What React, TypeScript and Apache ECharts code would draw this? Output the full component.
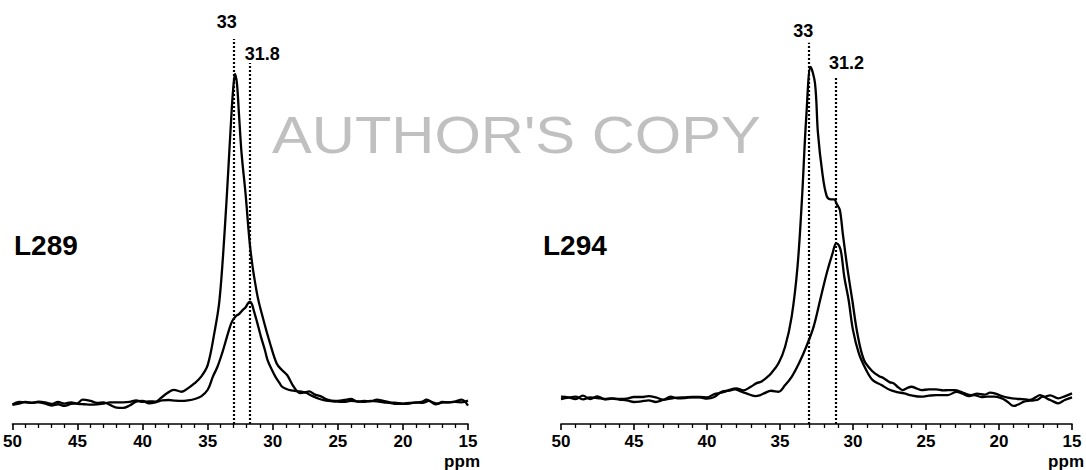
import React, { useEffect, useRef } from "react";
import * as echarts from "echarts";

// 13C NMR spectra, chemical shift (ppm) vs intensity (a.u.), two samples.
const l289Upper: [number, number][] = [
  [50, -0.5], [49.5, 0.3], [49, 0.2], [48.5, 0], [48, 0.4], [47.5, 0.2], [47, -0.3], [46.5, 0.3],
  [46, -0.2], [45.5, 0.2], [45, -0.3], [44.5, -0.4], [44, -0.5], [43.5, -0.4], [43, -0.2], [42.5, 0.2],
  [42, 0.2], [41.5, 0.2], [41, 0.3], [40.5, 0.8], [40, 0.3], [39.5, 0.5], [39, 0.4], [38.6, 1.5],
  [38.1, 3.0], [37.6, 4.0], [37.0, 3.4], [36.5, 4.5], [36.0, 6.0], [35.5, 8.0], [35.0, 11.5], [34.5, 21],
  [34.1, 31], [33.7, 52], [33.4, 72], [33.2, 86], [33.05, 95], [32.9, 100], [32.75, 97], [32.6, 88],
  [32.4, 76], [32.1, 64], [31.7, 46], [31.2, 33], [30.7, 25], [30.2, 18], [29.7, 12], [29.3, 10],
  [28.9, 8.5], [28.4, 5], [27.9, 3], [27.5, 3.2], [27.2, 3.5], [26.8, 2.6], [26.3, 2], [25.8, 1],
  [25.2, 0.6], [24.5, 0.9], [24, 1.2], [23.5, 0.4], [23, 0.6], [22.5, 0.5], [22, 1.0], [21.5, 0.6],
  [21, 0.2], [20.5, 0], [20, -0.2], [19.5, 0], [19, 0.1], [18.5, 0.4], [18.2, 1.0], [17.8, 0.3],
  [17.3, -0.2], [17, 0.3], [16.5, 0.2], [16, 0.4], [15.5, 1], [15, -0.8],
];

const l289Lower: [number, number][] = [
  [50, -0.6], [49.5, -0.2], [49, 0.3], [48.5, 0.1], [48, 0.2], [47.5, -0.2], [47, -0.8], [46.5, -0.4],
  [46, -0.9], [45.5, -0.3], [45, -0.1], [44.6, 1.0], [44, 0.6], [43.5, 0.0], [43, 0.2], [42.5, -0.6],
  [42, -1.4], [41.5, -1.5], [41, -0.8], [40.5, 0.4], [40, 0.6], [39.5, -0.1], [39, 0.2], [38.5, 0.8],
  [38, 0.9], [37.5, 0.7], [37, 0.6], [36.5, 0.8], [36, 1.2], [35.5, 2], [35.0, 4], [34.6, 8],
  [34.25, 11], [33.9, 15], [33.6, 19], [33.3, 23], [33.1, 25], [32.8, 26.5], [32.6, 27], [32.3, 28.3],
  [32.1, 29], [31.9, 30.3], [31.75, 30.8], [31.6, 30], [31.45, 28], [31.2, 24.5], [30.9, 20], [30.6, 16],
  [30.4, 13], [30.1, 10.3], [29.8, 8], [29.5, 6.2], [29.3, 5], [29.0, 4.3], [28.6, 3.8], [27.9, 3.5],
  [27.5, 3.2], [26.9, 2], [26.4, 1.2], [25.9, 0.7], [25.4, 0.5], [25, 0.4], [24.5, 0.3], [24, 0.6],
  [23.5, 0.5], [23, 0.3], [22.5, 0.6], [22, 0.5], [21.5, 0.2], [21, 0], [20.5, -0.3], [20, -0.3],
  [19.5, -0.2], [19, 0.2], [18.5, 0.0], [18, 0.6], [17.5, -0.4], [17, 0.1], [16.5, 0.2], [16, 0.3],
  [15.5, 0.2], [15, 0.7],
];

const l294Upper: [number, number][] = [
  [50, 0.4], [49.5, 0.2], [49, -0.3], [48.5, 0.7], [48, -0.3], [47.5, 0.5], [47, -0.4], [46.5, -0.2],
  [46, -0.5], [45.5, -0.7], [45, -1.2], [44.5, -1.0], [44, -0.7], [43.5, -1.2], [43, -0.6], [42.5, -0.2],
  [42, 0.1], [41.5, 0.2], [41, 0.3], [40.5, 0.3], [40, 0.2], [39.5, 1.2], [39, 1.6], [38.5, 2.4],
  [38, 2.9], [37.5, 2.3], [37, 3.4], [36.6, 4.5], [36.3, 4.9], [35.9, 6.2], [35.6, 7.5], [35.1, 10.5],
  [34.65, 15.5], [34.2, 24.6], [33.8, 39.7], [33.5, 59.8], [33.2, 85], [32.9, 100], [32.6, 95], [32.4, 80],
  [32.1, 68], [31.8, 61], [31.5, 60], [31.3, 60], [31.1, 58.5], [30.9, 56.8], [30.7, 49.7], [30.4, 39.7],
  [30.05, 29.6], [29.7, 19.5], [29.25, 11.5], [28.65, 8], [28.2, 6.6], [27.9, 6], [27.5, 4.8], [27.2, 4.4],
  [26.9, 3.2], [26.6, 2.4], [26.3, 3], [26.0, 3.4], [25.6, 2.8], [25.3, 2.4], [24.8, 2.6], [24.3, 2.6],
  [23.8, 2.3], [23.5, 2.4], [23, 2.4], [22.8, 2.2], [22.4, 1.5], [21.9, 0.9], [21.5, 1.3], [21, 1.0],
  [20.6, 1.6], [20.3, 1.4], [19.8, 0.6], [19.4, 0.1], [19.1, -0.1], [18.6, -0.3], [18.2, -0.4], [17.9, -0.6],
  [17.5, 0.2], [17.2, 0.9], [16.9, 0.4], [16.5, 0.8], [15.95, -0.1], [15.5, 0.5], [15, 1.4],
];

const l294Lower: [number, number][] = [
  [50, -0.3], [49.5, 0.1], [49, 0.4], [48.5, -0.4], [48, 0.2], [47.5, 0.0], [47, -0.3], [46.5, -0.1],
  [46, -0.3], [45.5, -0.2], [45, 0.3], [44.5, 0.3], [44, 0.6], [43.5, 0.2], [43, -0.5], [42.5, 0.4],
  [42, -0.1], [41.5, 0.0], [41, 0.2], [40.5, 0.2], [40, -0.2], [39.5, 0.3], [39, 1.9], [38.5, 2.2],
  [38.1, 2.6], [37.7, 2.0], [37.3, 1.4], [36.7, 0.6], [36.4, 0.8], [36.1, 1.4], [35.6, 2.2], [35.1, 1.9],
  [34.65, 3.9], [34.2, 6.4], [33.7, 10.5], [33.2, 15.5], [32.7, 21.5], [32.25, 29.6], [31.8, 37.7], [31.4, 43.7],
  [31.15, 46.7], [30.95, 46], [30.8, 43.7], [30.6, 36.7], [30.3, 29.6], [30.0, 20.5], [29.6, 13.5], [29.1, 8.5],
  [28.65, 5.4], [28.05, 3.9], [27.45, 2.4], [27, 1.8], [26.5, 1.4], [26, 0.8], [25.3, 0.4], [24.8, 0.7],
  [24.3, 0.9], [23.9, 0.9], [23.5, 0.9], [22.9, 1.9], [22.5, 1.3], [22.1, 0.6], [21.7, 0.9], [21.2, 0.3],
  [20.8, 0.4], [20.3, 0.4], [19.8, -0.1], [19.4, -1.2], [19.0, -2.4], [18.6, -1.8], [18.3, -1.1], [17.9, -0.8],
  [17.4, -0.6], [17.0, 0.4], [16.6, -0.4], [16.3, -1.0], [15.95, -1.6], [15.5, -0.6], [15, 0.2],
];

// Marked chemical shifts
const l289Peaks = [33, 31.8];
const l294Peaks = [33, 31.2];

const sampleNames = ["L289", "L294"];
const shiftRange = [15, 50];
const shiftStep = 5;
const unitLabel = "ppm";
const watermarkText = "AUTHOR'S COPY";

const FONT = '"Liberation Sans", Arial, Helvetica, sans-serif';

const panels = [
  {
    grid: { left: 11, right: 618, top: 20, bottom: 46 },
    yMin: -6.4,
    yMax: 116.4,
    curves: [l289Upper, l289Lower],
    peaks: l289Peaks,
    peakTops: [110.6, 103.3],
    peakLabels: [{ dx: -7, y: 22 }, { dx: 13, y: 54 }],
    name: sampleNames[0],
    namePos: { x: 14, y: 245 },
    unitRight: 480,
  },
  {
    grid: { left: 561, right: 14, top: 20, bottom: 46 },
    yMin: -7.85,
    yMax: 114.2,
    curves: [l294Upper, l294Lower],
    peaks: l294Peaks,
    peakTops: [107.3, 96.7],
    peakLabels: [{ dx: -6, y: 31 }, { dx: 11, y: 63 }],
    name: sampleNames[1],
    namePos: { x: 543, y: 245 },
    unitRight: 1084,
  },
];

function buildOption() {
  const series: any[] = [];
  panels.forEach((p, i) => {
    p.curves.forEach((curve, k) => {
      series.push({
        type: "line",
        xAxisIndex: i,
        yAxisIndex: i,
        data: curve,
        showSymbol: false,
        symbol: "none",
        smooth: 0.35,
        lineStyle: { color: "#000", width: 2.3 },
        emphasis: { disabled: true },
        silent: true,
        z: 3,
        markLine:
          k === 0
            ? {
                silent: true,
                symbol: ["none", "none"],
                label: { show: false },
                emphasis: { disabled: true },
                lineStyle: { color: "#000", width: 2.2, type: [2, 2] },
                data: p.peaks.map((v, j) => [
                  { coord: [v, p.yMin] },
                  { coord: [v, p.peakTops[j]] },
                ]),
              }
            : undefined,
      });
    });
  });

  return {
    animation: false,
    backgroundColor: "#fff",
    grid: panels.map((p) => ({ ...p.grid, containLabel: false })),
    xAxis: panels.map((_, i) => ({
      type: "value",
      gridIndex: i,
      min: shiftRange[0],
      max: shiftRange[1],
      interval: shiftStep,
      inverse: true,
      axisLine: { show: true, onZero: false, lineStyle: { color: "#000", width: 1.6 } },
      axisTick: { show: true, length: 6, lineStyle: { color: "#000", width: 1.6 } },
      minorTick: { show: true, splitNumber: 5, length: 4, lineStyle: { color: "#000", width: 1.3 } },
      splitLine: { show: false },
      minorSplitLine: { show: false },
      axisLabel: {
        color: "#000",
        fontSize: 17,
        fontWeight: "bold",
        fontFamily: FONT,
        margin: 9,
      },
    })),
    yAxis: panels.map((p, i) => ({
      type: "value",
      gridIndex: i,
      min: p.yMin,
      max: p.yMax,
      show: false,
      splitLine: { show: false },
    })),
    series,
  };
}

function staticGraphics() {
  const items: any[] = [
    {
      type: "text",
      id: "watermark",
      x: 272,
      y: 136,
      scaleX: 1.17,
      z: 1,
      silent: true,
      style: {
        text: watermarkText,
        fontSize: 51,
        fontFamily: FONT,
        fill: "#c0c0c0",
        align: "left",
        verticalAlign: "middle",
      },
    },
  ];
  panels.forEach((p, i) => {
    items.push({
      type: "text",
      id: `name-${i}`,
      x: p.namePos.x,
      y: p.namePos.y,
      z: 5,
      silent: true,
      style: {
        text: p.name,
        fontSize: 28,
        fontWeight: "bold",
        fontFamily: FONT,
        fill: "#000",
        align: "left",
        verticalAlign: "middle",
      },
    });
    items.push({
      type: "text",
      id: `unit-${i}`,
      x: p.unitRight,
      y: 461,
      z: 5,
      silent: true,
      style: {
        text: unitLabel,
        fontSize: 17,
        fontWeight: "bold",
        fontFamily: FONT,
        fill: "#000",
        align: "right",
        verticalAlign: "middle",
      },
    });
  });
  return items;
}

export default function App() {
  const ref = useRef<HTMLDivElement>(null);

  useEffect(() => {
    if (!ref.current) return;
    const chart = echarts.init(ref.current, null, { renderer: "svg" });
    chart.setOption(buildOption() as any);

    const peakTexts: any[] = [];
    panels.forEach((p, i) => {
      p.peaks.forEach((v, j) => {
        const px = chart.convertToPixel({ xAxisIndex: i } as any, v) as unknown as number;
        peakTexts.push({
          type: "text",
          id: `peak-${i}-${j}`,
          x: px + p.peakLabels[j].dx,
          y: p.peakLabels[j].y,
          z: 5,
          silent: true,
          style: {
            text: String(v),
            fontSize: 18,
            fontWeight: "bold",
            fontFamily: FONT,
            fill: "#000",
            align: "center",
            verticalAlign: "middle",
          },
        });
      });
    });
    chart.setOption({ graphic: [...staticGraphics(), ...peakTexts] } as any);

    return () => chart.dispose();
  }, []);

  return (
    <div
      ref={ref}
      style={{ position: "fixed", left: 0, top: 0, width: 1086, height: 470, background: "#fff" }}
    />
  );
}
